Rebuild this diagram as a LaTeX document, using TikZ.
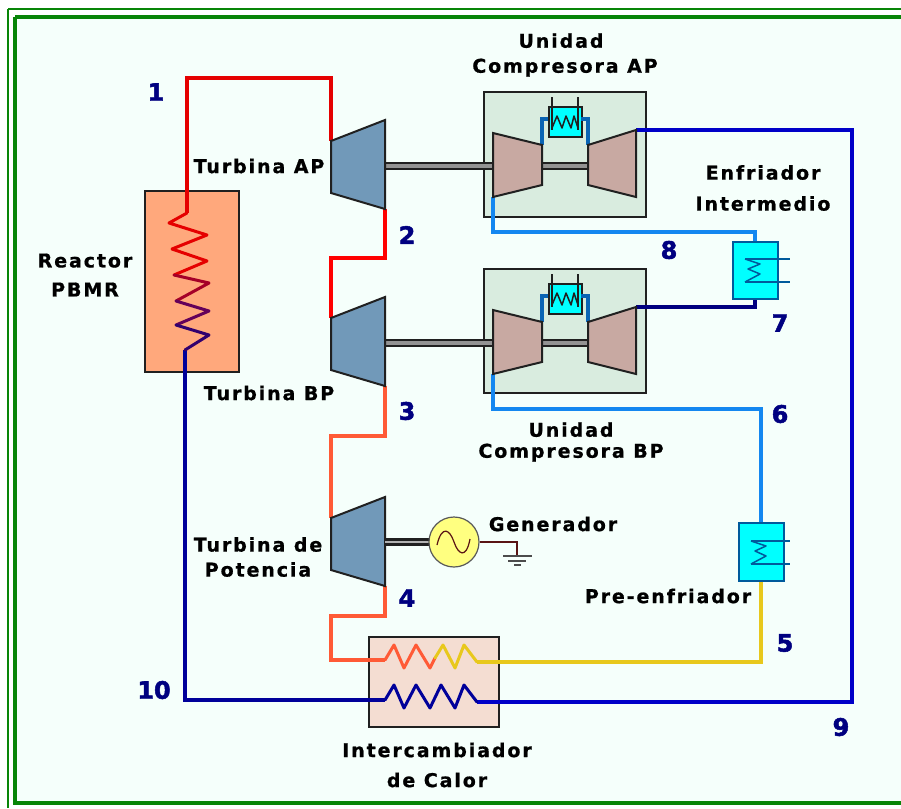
\documentclass[tikz,border=0pt]{standalone}
\usepackage{fontspec}
\setmainfont{Liberation Sans}[BoldFont={Liberation Sans Bold}]
\newfontfamily\lblfont{DejaVu Sans Bold}[LetterSpace=10,FakeBold=0.8]
\newfontfamily\numfont{DejaVu Sans Bold}[FakeBold=2]
\definecolor{bgc}{HTML}{F5FFFB}
\definecolor{grn}{HTML}{088508}
\definecolor{turbc}{HTML}{7199B9}
\definecolor{compc}{HTML}{C8A9A2}
\definecolor{boxc}{HTML}{D9ECDF}
\definecolor{reac}{HTML}{FFA87C}
\definecolor{hxc}{HTML}{F4DDD2}
\definecolor{cooler}{HTML}{00FFFF}
\definecolor{coilb}{HTML}{005A9C}
\definecolor{pipeo}{HTML}{FF5A36}
\definecolor{pipey}{HTML}{E8C81C}
\definecolor{pipel}{HTML}{1487F0}
\definecolor{piped}{HTML}{000080}
\definecolor{pipeb}{HTML}{0000C8}
\definecolor{pipen}{HTML}{00009A}
\definecolor{pipei}{HTML}{0A64B4}
\definecolor{gener}{HTML}{FFFF80}
\definecolor{edge}{HTML}{202020}
\tikzset{
  x=1pt,y=-1pt,
  pipe/.style={line width=4pt,line join=miter},
  lbl/.style={font=\lblfont\fontsize{19}{26}\selectfont,align=center,text=black,inner sep=0pt},
  num/.style={font=\numfont\fontsize{24}{24}\selectfont,text=piped,inner sep=0pt},
  unit/.style={draw=edge,line width=2pt,line join=miter},
  hxbox/.style={draw=edge,line width=2pt,rectangle,inner sep=0pt,anchor=north west},
  coolbox/.style={draw=coilb,line width=1.8pt,fill=cooler,rectangle,inner sep=0pt,anchor=north west},
  zig/.style={line width=3pt,line join=round,line cap=round},
  thin coil/.style={draw=coilb,line width=1.5pt,line join=round},
}
\begin{document}
\begin{tikzpicture}
\useasboundingbox (0,0) rectangle (901,808);
\fill[white] (0,0) rectangle (901,808);
\fill[bgc] (15,17) rectangle (901,803);
\draw[grn,line width=2pt] (8,9) -- (901,9) (8,9) -- (8,808);
\draw[grn,line width=4pt] (15,17) -- (901,17) (15,17) -- (15,803) -- (901,803);

% ---- containers
\node[hxbox,fill=boxc,minimum width=162pt,minimum height=125pt] (ubox1) at (483,91) {};
\node[hxbox,fill=boxc,minimum width=162pt,minimum height=124pt] (ubox2) at (483,268) {};
\node[hxbox,fill=reac,minimum width=94pt,minimum height=181pt] (reactor) at (144,190) {};
\node[hxbox,fill=hxc,minimum width=130pt,minimum height=90pt] (hx) at (368,636) {};

% ---- named points
\foreach \n/\dy in {a/0,b/177,c/377}{
  \coordinate (t\n tl) at (331,141+\dy);
  \coordinate (t\n tr) at (385,120+\dy);
  \coordinate (t\n br) at (385,209+\dy);
  \coordinate (t\n bl) at (331,193+\dy);
}
\foreach \n/\dy in {a/0,b/177}{
  \coordinate (cl\n tl) at (493,133+\dy);
  \coordinate (cl\n tr) at (542,145+\dy);
  \coordinate (cl\n br) at (542,185+\dy);
  \coordinate (cl\n bl) at (493,197+\dy);
  \coordinate (cr\n tl) at (588,145+\dy);
  \coordinate (cr\n tr) at (636,130+\dy);
  \coordinate (cr\n br) at (636,197+\dy);
  \coordinate (cr\n bl) at (588,185+\dy);
  \coordinate (ml\n) at (548,119+\dy);
  \coordinate (mr\n) at (581,119+\dy);
}
\coordinate (coreTop) at (187,213);
\coordinate (coreBot) at (185,350);
\coordinate (hxOin) at (385,660);
\coordinate (hxOmid) at (435,658);
\coordinate (hxYout) at (477,662);
\coordinate (hxBin) at (385,700);
\coordinate (hxBout) at (477,702);

% ---- coolers
\node[coolbox,minimum width=45pt,minimum height=57pt] (cool1) at (732,241) {};
\node[coolbox,minimum width=45pt,minimum height=58pt] (cool2) at (738,522) {};
\foreach \n/\dy in {a/0,b/177}{
  \node[draw=edge,line width=1.6pt,fill=cooler,rectangle,inner sep=0pt,anchor=north west,minimum width=33pt,minimum height=30pt] (mini\n) at (548,106+\dy) {};
}

% ---- shafts
\foreach \y in {166,343}{
  \fill[edge] (385,\y-4) rectangle (494,\y+4);
  \fill[gray!85] (385,\y-2) rectangle (494,\y+2);
  \fill[edge] (542,\y-4) rectangle (588,\y+4);
  \fill[gray!85] (542,\y-2) rectangle (588,\y+2);
}

% ---- pipes
\draw[pipe,draw=red!90!black] (coreTop) |- (331,78) -- (tatl);
\draw[pipe,draw=red] (tabr) -- (385,258) -- (331,258) -- (tbtl);
\draw[pipe,draw=pipeo] (tbbr) -- (385,436) -- (331,436) -- (tctl);
\draw[pipe,draw=pipeo] (tcbr) -- (385,616) -- (331,616) -- (331,660) -- (hxOin);
\draw[pipe,draw=pipey] (hxYout) -| (cool2.south);
\draw[pipe,draw=pipel] (clbbl) |- (761,409) -| (cool2.north);
\draw[pipe,draw=pipel] (clabl) |- (755,232) -| (cool1.north);
\draw[pipe,draw=piped] (crbtr) -| (cool1.south);
\draw[pipe,draw=pipeb] (hxBout) -- (852,702) -- (852,130) -- (cratr);
\draw[pipe,draw=pipen] (coreBot) |- (hxBin);
\foreach \n in {a,b}{
  \draw[line width=3.5pt,draw=pipei] (cl\n tr) |- (ml\n);
  \draw[line width=3.5pt,draw=pipei] (cr\n tl) |- (mr\n);
}

% ---- reactor coil
\draw[zig,red!90!black] (coreTop) -- (169,223) -- (207,235) -- (172,249) -- (207,261) -- (174,275);
\draw[zig,color={rgb,255:red,165;green,0;blue,40}] (174,275) -- (209,283) -- (176,301);
\draw[zig,color={rgb,255:red,100;green,0;blue,90}] (176,301) -- (209,311) -- (176,325);
\draw[zig,color={rgb,255:red,50;green,0;blue,110}] (176,325) -- (209,335) -- (coreBot);

% ---- exchanger coils
\draw[zig,pipeo] (hxOin) -- (394,645) -- (404,668) -- (416,645) -- (430,668) -- (hxOmid);
\draw[zig,pipey] (hxOmid) -- (443,645) -- (455,668) -- (464,645) -- (hxYout);
\draw[zig,pipen] (hxBin) -- (394,685) -- (404,708) -- (416,685) -- (430,708) -- (441,685) -- (455,708) -- (464,685) -- (hxBout);

% ---- turbines & compressors
\foreach \n in {a,b,c}{
  \draw[unit,fill=turbc] (t\n tl) -- (t\n tr) -- (t\n br) -- (t\n bl) -- cycle;
}
\foreach \n in {a,b}{
  \draw[unit,fill=compc] (cl\n tl) -- (cl\n tr) -- (cl\n br) -- (cl\n bl) -- cycle;
  \draw[unit,fill=compc] (cr\n tl) -- (cr\n tr) -- (cr\n br) -- (cr\n bl) -- cycle;
}
% ---- mini coolers' coils
\foreach \dy in {0,177}{
  \draw[edge,line width=1.5pt] (552,97+\dy) -- (552,130+\dy) (578,97+\dy) -- (578,130+\dy);
  \draw[edge,line width=1.5pt,line join=round] (552,128+\dy) -- (557,116+\dy) -- (562,128+\dy) -- (566,116+\dy) -- (571,128+\dy) -- (574,116+\dy) -- (578,128+\dy);
}
% ---- big cooler coils
\draw[thin coil] (745,259) -- (790,259) (745,282) -- (790,282);
\draw[thin coil] (745,259) -- (760,264) -- (748,269) -- (760,274) -- (745,282);
\draw[thin coil] (751,541) -- (790,541) (751,564) -- (790,564);
\draw[thin coil] (751,541) -- (766,546) -- (755,551) -- (766,556) -- (751,564);

% ---- generator
\fill[edge] (385,538) rectangle (430,546);
\fill[gray!60] (385,541) rectangle (430,543);
\node[circle,draw=gray!70!black,line width=1.2pt,fill=gener,minimum size=50pt,inner sep=0pt] (gen) at (454,542) {};
\draw[line width=1.2pt,color={rgb,255:red,90;green,20;blue,20}] (gen.east) -- (517,542) -- (517,556);
\draw[line width=1.2pt,color={rgb,255:red,90;green,20;blue,20}] (437,545) .. controls (442,524) and (450,530) .. (454,542) .. controls (458,554) and (466,560) .. (470,539);
\draw[line width=1.2pt,gray!60!black] (503,556) -- (532,556) (508,561) -- (526,561) (514,565) -- (521,565);

% ---- labels
\node[lbl] (lua) at (565,55) {Unidad\hspace*{8pt}\\[-1pt]Compresora AP};
\node[lbl] (lta) at (259,166) {Turbina AP};
\node[lbl] (lef) at (763,188) {Enfriador\\[5pt]Intermedio};
\node[lbl] (lr) at (85,275) {Reactor\\[3pt]PBMR};
\node[lbl] (ltb) at (269,393) {Turbina BP};
\node[lbl] (lub) at (571,442) {Unidad\\[-5pt]Compresora BP};
\node[lbl] (lg) at (553,524) {Generador};
\node[lbl] (ltp) at (258,557) {Turbina de\\[-1pt]Potencia};
\node[lbl] (lpe) at (668,596) {Pre-enfriador};
\node[lbl] (lic) at (437,765) {Intercambiador\\[4pt]de Calor};

\node[num] (n1) at (156,92) {1};
\node[num] (n2) at (407,235) {2};
\node[num] (n3) at (407,411) {3};
\node[num] (n4) at (407,598) {4};
\node[num] (n5) at (785,643) {5};
\node[num] (n6) at (780,414) {6};
\node[num] (n7) at (780,323) {7};
\node[num] (n8) at (669,250) {8};
\node[num] (n9) at (841,727) {9};
\node[num] (n10) at (154,690) {10};
\end{tikzpicture}
\end{document}
